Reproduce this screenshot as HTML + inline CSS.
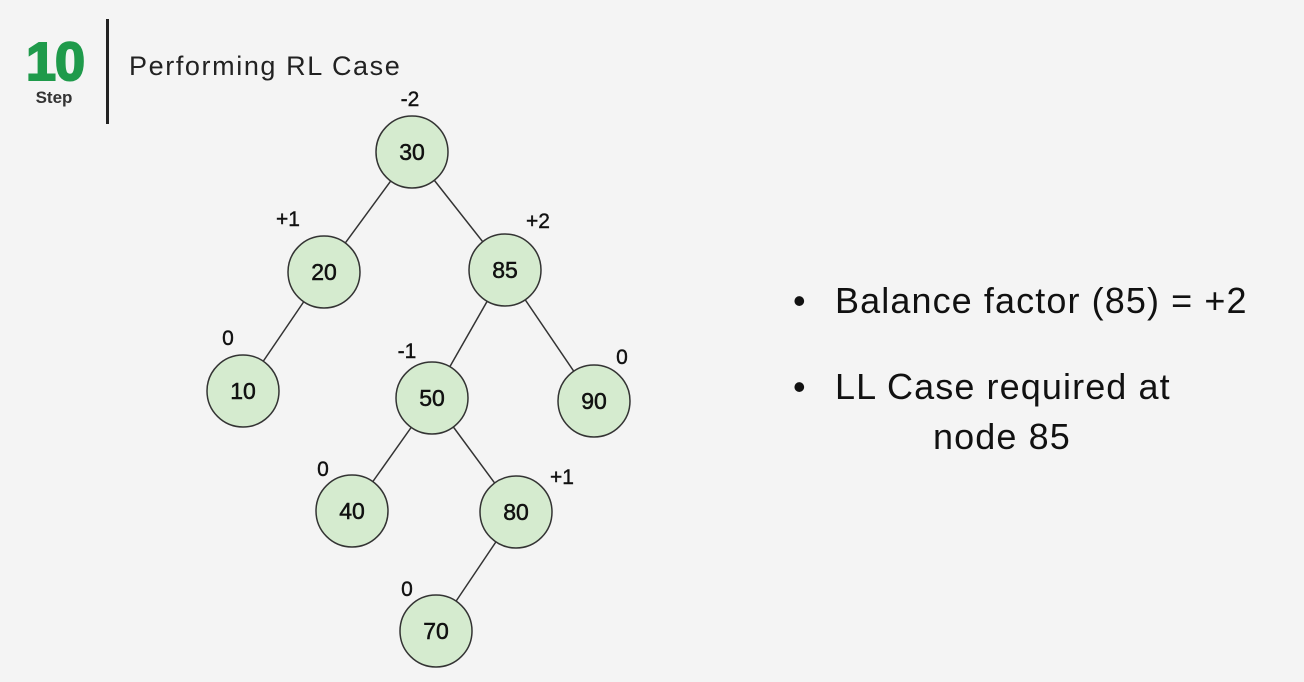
<!DOCTYPE html>
<html><head><meta charset="utf-8"><style>
body{margin:0;background:#f4f4f4;}
svg{display:block}
</style></head><body>
<svg width="1304" height="682" xmlns="http://www.w3.org/2000/svg" font-family="Liberation Sans, sans-serif">
<rect width="1304" height="682" fill="#f4f4f4"/>
<text x="55" y="80" font-size="54" font-weight="bold" fill="#1f9a4b" stroke="#1f9a4b" stroke-width="2" text-anchor="middle" letter-spacing="-1">10</text>
<text x="54" y="103" font-size="17" font-weight="bold" fill="#333" text-anchor="middle">Step</text>
<rect x="106" y="19" width="3" height="105" fill="#222"/>
<text x="129" y="75" font-size="27" fill="#222" letter-spacing="1.6">Performing RL Case</text>
<g stroke="#333" stroke-width="1.5">
<line x1="412" y1="152" x2="324" y2="272"/>
<line x1="412" y1="152" x2="505" y2="270"/>
<line x1="324" y1="272" x2="243" y2="391"/>
<line x1="505" y1="270" x2="432" y2="398"/>
<line x1="505" y1="270" x2="594" y2="401"/>
<line x1="432" y1="398" x2="352" y2="511"/>
<line x1="432" y1="398" x2="516" y2="512"/>
<line x1="516" y1="512" x2="436" y2="631"/>
</g>
<g fill="#d5ebcf" stroke="#333" stroke-width="1.5">
<circle cx="412" cy="152" r="36"/><circle cx="324" cy="272" r="36"/><circle cx="505" cy="270" r="36"/>
<circle cx="243" cy="391" r="36"/><circle cx="432" cy="398" r="36"/><circle cx="594" cy="401" r="36"/>
<circle cx="352" cy="511" r="36"/><circle cx="516" cy="512" r="36"/><circle cx="436" cy="631" r="36"/>
</g>
<g font-size="23" fill="#111" stroke="#111" stroke-width="0.5" text-anchor="middle">
<text x="412" y="160">30</text><text x="324" y="280">20</text><text x="505" y="278">85</text>
<text x="243" y="399">10</text><text x="432" y="406">50</text><text x="594" y="409">90</text>
<text x="352" y="519">40</text><text x="516" y="520">80</text><text x="436" y="639">70</text>
</g>
<g font-size="21" fill="#111" stroke="#111" stroke-width="0.4" text-anchor="middle">
<text x="410" y="106">-2</text><text x="288" y="226">+1</text><text x="538" y="228">+2</text>
<text x="228" y="345">0</text><text x="407" y="358">-1</text><text x="622" y="364">0</text>
<text x="323" y="476">0</text><text x="562" y="484">+1</text><text x="407" y="596">0</text>
</g>
<g font-size="36" fill="#111">
<text x="793" y="313">•</text><text x="835" y="313" letter-spacing="1.1">Balance factor (85) = +2</text>
<text x="793" y="399">•</text><text x="835" y="399" letter-spacing="1.1">LL Case required at</text>
<text x="933" y="449" letter-spacing="1.1">node 85</text>
</g>
</svg>
</body></html>
